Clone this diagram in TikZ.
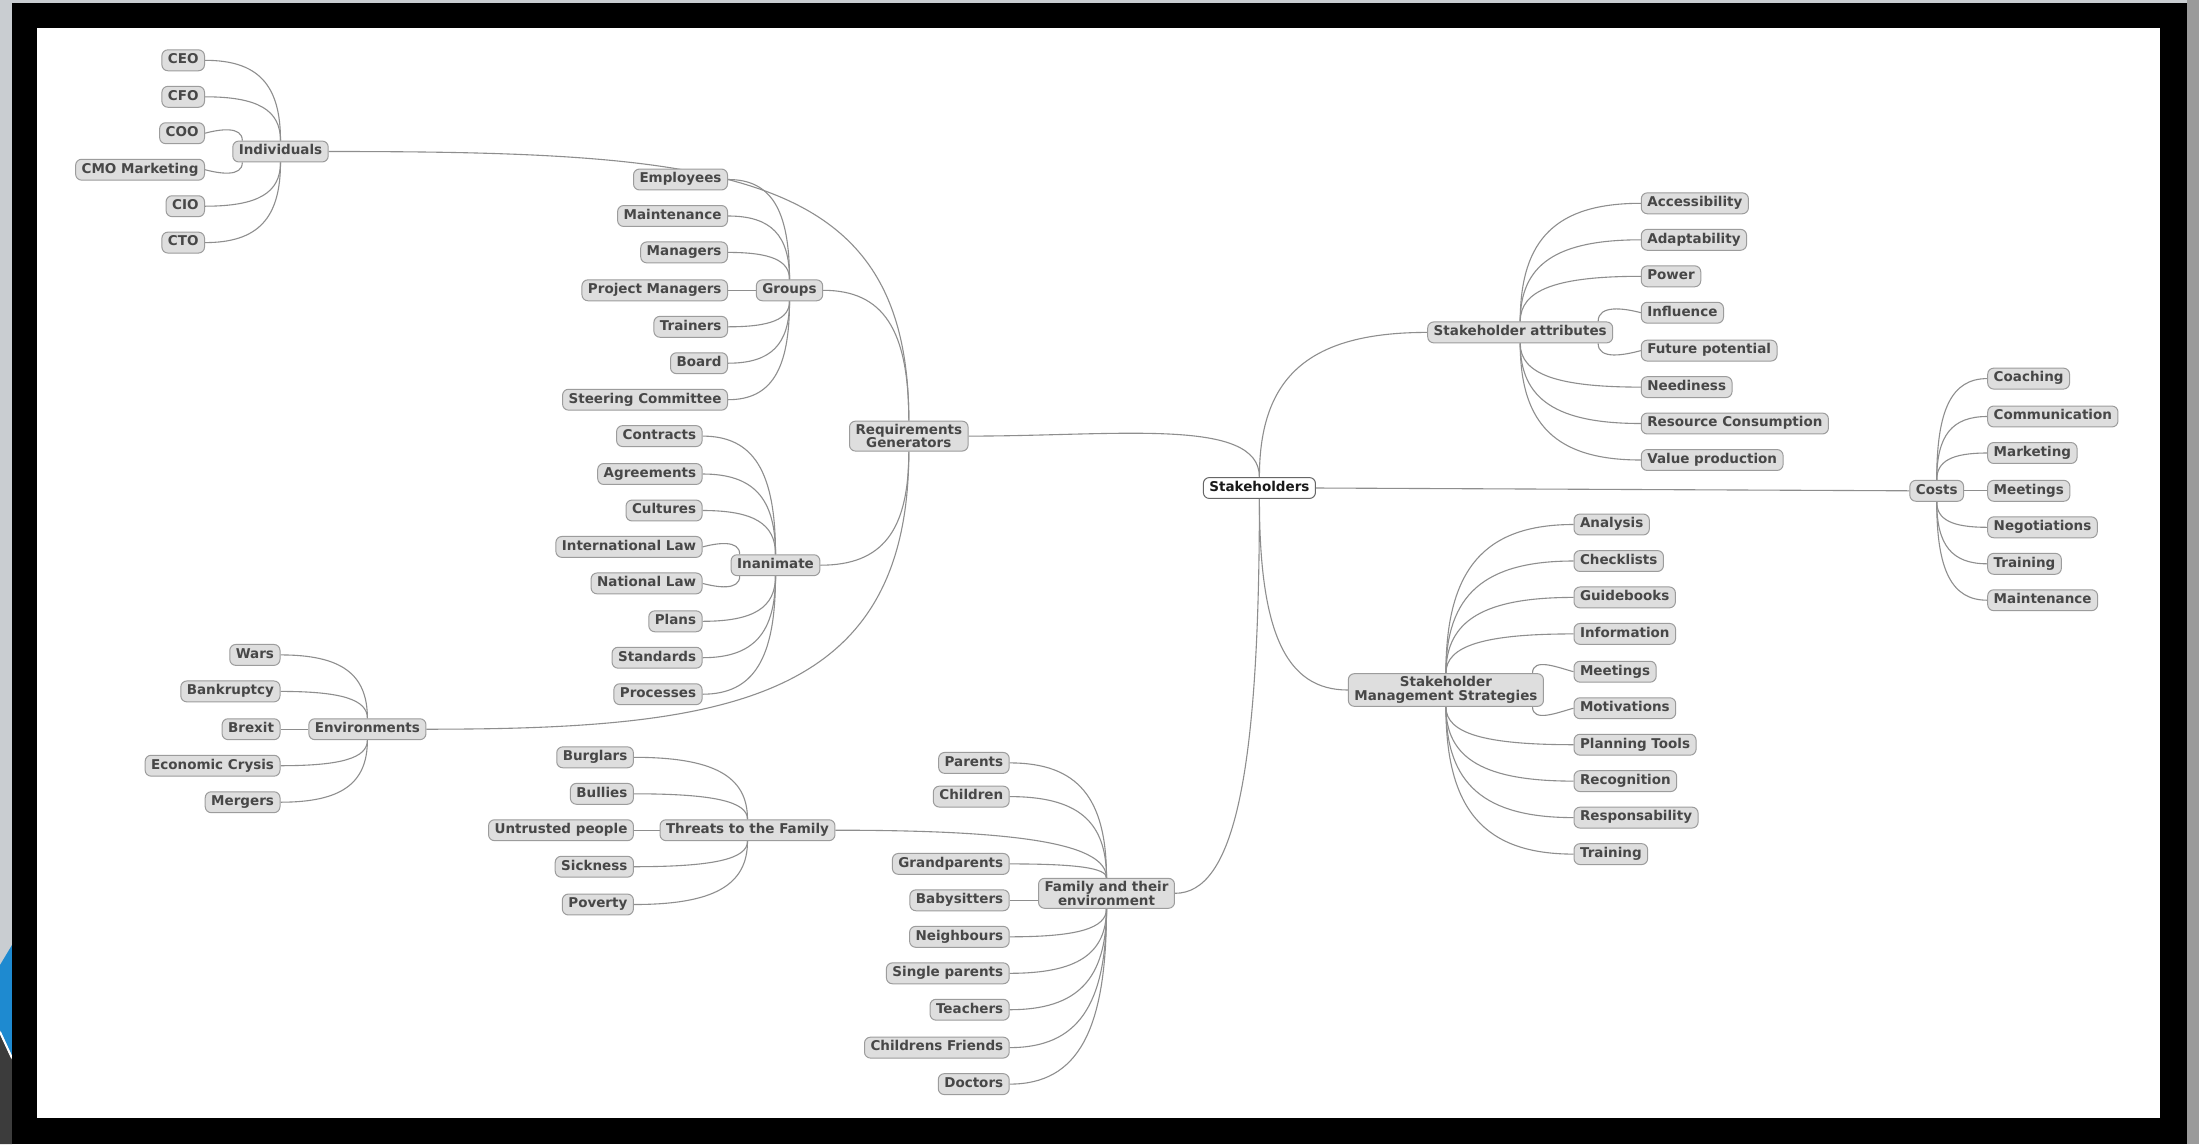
\documentclass[tikz,border=0pt]{standalone}
\usepackage{fontspec}
\setmainfont{DejaVu Sans}
\usetikzlibrary{calc,backgrounds}
\definecolor{ndfill}{HTML}{DEDEDE}
\definecolor{ndborder}{HTML}{9C9C9C}
\definecolor{ndtext}{HTML}{474747}
\definecolor{edgecol}{HTML}{8E8E8E}
\definecolor{stripgray}{HTML}{C9CDD1}
\definecolor{swblue}{HTML}{1E8AD0}
\definecolor{swdark}{HTML}{3C3C3C}
\definecolor{rightgray}{HTML}{9A9A9A}
\newcommand{\ndfont}{\fontsize{13.5}{13.5}\selectfont\bfseries}
\tikzset{
  nd/.style={draw=ndborder, fill=ndfill, rounded corners=6pt, line width=1pt,
    inner xsep=6pt, inner ysep=4pt, font=\ndfont, text=ndtext,
    text height=9.8pt, text depth=3.1pt},
  ndtwo/.style={draw=ndborder, fill=ndfill, rounded corners=6pt, line width=1pt,
    inner xsep=6pt, inner ysep=3pt, font=\ndfont, text=ndtext, align=center},
  rootnd/.style={nd, fill=white, draw=black!60, text=black!90},
  conn/.style={draw=edgecol, line width=1.1pt},
  corner/.style={to path={.. controls ($(\tikztostart)!#1!(\tikztostart-|\tikztotarget)$) and ($(\tikztotarget)!#1!(\tikztotarget|-\tikztostart)$) .. (\tikztotarget)}},
  corner/.default=0.7,
}
\begin{document}
\begin{tikzpicture}[x=1pt,y=1pt]
\useasboundingbox (0,0) rectangle (2199,-1144);
\begin{scope}[on background layer]
  \fill[stripgray] (0,0) rectangle (2199,-1144);
  \fill[swblue] (0,-965) -- (12,-945) -- (12,-1056) -- (0,-1030) -- cycle;
  \fill[swdark] (0,-1034) -- (12,-1060) -- (12,-1144) -- (0,-1144) -- cycle;
  \draw[white, line width=2pt] (0,-1032) -- (12,-1058);
  \fill[rightgray] (2187,0) rectangle (2199,-1144);
  \fill[black] (12,-3) rectangle (2187,-1144);
  \fill[white] (37,-28) rectangle (2160,-1118);
\end{scope}

% ---------- root ----------
\node[rootnd] (sh) at (1259.4,-488) {Stakeholders};

% ---------- Requirements Generators ----------
\node[ndtwo] (rg) at (908.8,-436.1) {Requirements\\Generators};

% Individuals
\node[nd] (ind) at (280.5,-151.5) {Individuals};
\node[nd, anchor=east] (ceo) at (205,-60.3) {CEO};
\node[nd, anchor=east] (cfo) at (205,-96.8) {CFO};
\node[nd, anchor=east] (coo) at (205,-133.2) {COO};
\node[nd, anchor=east] (cmo) at (205,-169.7) {CMO Marketing};
\node[nd, anchor=east] (cio) at (205,-206.2) {CIO};
\node[nd, anchor=east] (cto) at (205,-242.6) {CTO};

% Groups
\node[nd] (grp) at (789.5,-290.3) {Groups};
\node[nd, anchor=east] (emp) at (728,-179.5) {Employees};
\node[nd, anchor=east] (gmaint) at (728,-216.0) {Maintenance};
\node[nd, anchor=east] (mgr) at (728,-252.4) {Managers};
\node[nd, anchor=east] (pm) at (728,-290.3) {Project Managers};
\node[nd, anchor=east] (trn) at (728,-326.8) {Trainers};
\node[nd, anchor=east] (brd) at (728,-363.2) {Board};
\node[nd, anchor=east] (stc) at (728,-399.7) {Steering Committee};

% Inanimate
\node[nd] (inan) at (775.5,-565.2) {Inanimate};
\node[nd, anchor=east] (con) at (702.6,-436.1) {Contracts};
\node[nd, anchor=east] (agr) at (702.6,-474.0) {Agreements};
\node[nd, anchor=east] (cul) at (702.6,-510.5) {Cultures};
\node[nd, anchor=east] (intl) at (702.6,-546.9) {International Law};
\node[nd, anchor=east] (natl) at (702.6,-583.4) {National Law};
\node[nd, anchor=east] (pla) at (702.6,-621.3) {Plans};
\node[nd, anchor=east] (std) at (702.6,-657.7) {Standards};
\node[nd, anchor=east] (pro) at (702.6,-694.2) {Processes};

% Environments
\node[nd] (env) at (367.4,-729.2) {Environments};
\node[nd, anchor=east] (wars) at (280.5,-654.9) {Wars};
\node[nd, anchor=east] (bank) at (280.5,-691.4) {Bankruptcy};
\node[nd, anchor=east] (brex) at (280.5,-729.2) {Brexit};
\node[nd, anchor=east] (eco) at (280.5,-765.7) {Economic Crysis};
\node[nd, anchor=east] (merg) at (280.5,-802.2) {Mergers};

% Threats
\node[nd] (thr) at (747.5,-830.2) {Threats to the Family};
\node[nd, anchor=east] (burg) at (633.9,-757.3) {Burglars};
\node[nd, anchor=east] (bull) at (633.9,-793.8) {Bullies};
\node[nd, anchor=east] (untr) at (633.9,-830.2) {Untrusted people};
\node[nd, anchor=east] (sick) at (633.9,-866.7) {Sickness};
\node[nd, anchor=east] (pov) at (633.9,-904.5) {Poverty};

% Family
\node[ndtwo] (fam) at (1106.5,-893.3) {Family and their\\environment};
\node[nd, anchor=east] (par) at (1009.7,-762.9) {Parents};
\node[nd, anchor=east] (chi) at (1009.7,-796.6) {Children};
\node[nd, anchor=east] (gpar) at (1009.7,-863.9) {Grandparents};
\node[nd, anchor=east] (baby) at (1009.7,-900.3) {Babysitters};
\node[nd, anchor=east] (neigh) at (1009.7,-936.8) {Neighbours};
\node[nd, anchor=east] (sing) at (1009.7,-973.3) {Single parents};
\node[nd, anchor=east] (teach) at (1009.7,-1009.7) {Teachers};
\node[nd, anchor=east] (cfr) at (1009.7,-1047.6) {Childrens Friends};
\node[nd, anchor=east] (doc) at (1009.7,-1084.1) {Doctors};

% Stakeholder attributes
\node[nd] (sa) at (1520.2,-332.4) {Stakeholder attributes};
\node[nd, anchor=west] (acc) at (1640.8,-203.3) {Accessibility};
\node[nd, anchor=west] (ada) at (1640.8,-239.8) {Adaptability};
\node[nd, anchor=west] (pow) at (1640.8,-276.3) {Power};
\node[nd, anchor=west] (infl) at (1640.8,-312.7) {Influence};
\node[nd, anchor=west] (fut) at (1640.8,-350.6) {Future potential};
\node[nd, anchor=west] (need) at (1640.8,-387.1) {Neediness};
\node[nd, anchor=west] (res) at (1640.8,-423.5) {Resource Consumption};
\node[nd, anchor=west] (val) at (1640.8,-460.0) {Value production};

% Costs
\node[nd] (costs) at (1936.7,-490.8) {Costs};
\node[nd, anchor=west] (coach) at (1987.2,-378.6) {Coaching};
\node[nd, anchor=west] (comm) at (1987.2,-416.5) {Communication};
\node[nd, anchor=west] (mark) at (1987.2,-453.0) {Marketing};
\node[nd, anchor=west] (cmeet) at (1987.2,-490.8) {Meetings};
\node[nd, anchor=west] (neg) at (1987.2,-527.3) {Negotiations};
\node[nd, anchor=west] (ctrain) at (1987.2,-563.8) {Training};
\node[nd, anchor=west] (cmaint) at (1987.2,-600.2) {Maintenance};

% Stakeholder Management Strategies
\node[ndtwo] (sms) at (1445.9,-690.0) {Stakeholder\\Management Strategies};
\node[nd, anchor=west] (ana) at (1573.5,-524.5) {Analysis};
\node[nd, anchor=west] (chk) at (1573.5,-561.0) {Checklists};
\node[nd, anchor=west] (gui) at (1573.5,-597.4) {Guidebooks};
\node[nd, anchor=west] (inf) at (1573.5,-633.9) {Information};
\node[nd, anchor=west] (smeet) at (1573.5,-671.7) {Meetings};
\node[nd, anchor=west] (mot) at (1573.5,-708.2) {Motivations};
\node[nd, anchor=west] (plan) at (1573.5,-744.7) {Planning Tools};
\node[nd, anchor=west] (rec) at (1573.5,-781.1) {Recognition};
\node[nd, anchor=west] (resp) at (1573.5,-817.6) {Responsability};
\node[nd, anchor=west] (strain) at (1573.5,-854.1) {Training};

% ---------- connectors ----------
\begin{scope}[on background layer]
  % root branches
  \draw[conn] (rg.east) .. controls +(150,0) and +(0,60) .. (sh.north);
  \draw[conn] (sa.west) to[corner] (sh.north);
  \draw[conn] (sms.west) to[corner] (sh.south);
  \draw[conn] (fam.east) to[corner] (sh.south);
  \draw[conn] (sh.east) -- (costs.west);
  % requirements generators
  \draw[conn] (ind.east) .. controls +(400,0) and +(0,250) .. (rg.north);
  \draw[conn] (env.east) .. controls +(300,0) and +(0,-250) .. (rg.south);
  \draw[conn] (grp.east) to[corner] (rg.north);
  \draw[conn] (inan.east) to[corner] (rg.south);
  % individuals
  \draw[conn] (ceo.east) to[corner] (ind.north);
  \draw[conn] (cfo.east) to[corner] (ind.north);
  \draw[conn] (coo.east) to[out=15,in=90] (ind.164);
  \draw[conn] (cmo.east) to[out=-15,in=-90] (ind.196);
  \draw[conn] (cio.east) to[corner] (ind.south);
  \draw[conn] (cto.east) to[corner] (ind.south);
  % groups
  \draw[conn] (emp.east) to[corner] (grp.north);
  \draw[conn] (gmaint.east) to[corner] (grp.north);
  \draw[conn] (mgr.east) to[corner] (grp.north);
  \draw[conn] (pm.east) -- (grp.west);
  \draw[conn] (trn.east) to[corner] (grp.south);
  \draw[conn] (brd.east) to[corner] (grp.south);
  \draw[conn] (stc.east) to[corner] (grp.south);
  % inanimate
  \draw[conn] (con.east) to[corner] (inan.north);
  \draw[conn] (agr.east) to[corner] (inan.north);
  \draw[conn] (cul.east) to[corner] (inan.north);
  \draw[conn] (intl.east) to[out=15,in=90] (inan.163);
  \draw[conn] (natl.east) to[out=-15,in=-90] (inan.197);
  \draw[conn] (pla.east) to[corner] (inan.south);
  \draw[conn] (std.east) to[corner] (inan.south);
  \draw[conn] (pro.east) to[corner] (inan.south);
  % environments
  \draw[conn] (wars.east) to[corner] (env.north);
  \draw[conn] (bank.east) to[corner] (env.north);
  \draw[conn] (brex.east) -- (env.west);
  \draw[conn] (eco.east) to[corner] (env.south);
  \draw[conn] (merg.east) to[corner] (env.south);
  % threats
  \draw[conn] (thr.east) to[corner] (fam.north);
  \draw[conn] (burg.east) to[corner] (thr.north);
  \draw[conn] (bull.east) to[corner] (thr.north);
  \draw[conn] (untr.east) -- (thr.west);
  \draw[conn] (sick.east) to[corner] (thr.south);
  \draw[conn] (pov.east) to[corner] (thr.south);
  % family
  \draw[conn] (par.east) to[corner] (fam.north);
  \draw[conn] (chi.east) to[corner] (fam.north);
  \draw[conn] (gpar.east) to[corner] (fam.north);
  \draw[conn] (baby.east) -- (baby.east -| fam.west);
  \draw[conn] (neigh.east) to[corner] (fam.south);
  \draw[conn] (sing.east) to[corner] (fam.south);
  \draw[conn] (teach.east) to[corner] (fam.south);
  \draw[conn] (cfr.east) to[corner] (fam.south);
  \draw[conn] (doc.east) to[corner] (fam.south);
  % stakeholder attributes
  \draw[conn] (acc.west) to[corner] (sa.north);
  \draw[conn] (ada.west) to[corner] (sa.north);
  \draw[conn] (pow.west) to[corner] (sa.north);
  \draw[conn] (infl.west) to[out=165,in=90] (sa.8);
  \draw[conn] (fut.west) to[out=195,in=-90] (sa.-8);
  \draw[conn] (need.west) to[corner] (sa.south);
  \draw[conn] (res.west) to[corner] (sa.south);
  \draw[conn] (val.west) to[corner] (sa.south);
  % costs
  \draw[conn] (coach.west) to[corner] (costs.north);
  \draw[conn] (comm.west) to[corner] (costs.north);
  \draw[conn] (mark.west) to[corner] (costs.north);
  \draw[conn] (cmeet.west) -- (costs.east);
  \draw[conn] (neg.west) to[corner] (costs.south);
  \draw[conn] (ctrain.west) to[corner] (costs.south);
  \draw[conn] (cmaint.west) to[corner] (costs.south);
  % management strategies
  \draw[conn] (ana.west) to[corner] (sms.north);
  \draw[conn] (chk.west) to[corner] (sms.north);
  \draw[conn] (gui.west) to[corner] (sms.north);
  \draw[conn] (inf.west) to[corner] (sms.north);
  \draw[conn] (smeet.west) to[out=165,in=90] (sms.11);
  \draw[conn] (mot.west) to[out=195,in=-90] (sms.-11);
  \draw[conn] (plan.west) to[corner] (sms.south);
  \draw[conn] (rec.west) to[corner] (sms.south);
  \draw[conn] (resp.west) to[corner] (sms.south);
  \draw[conn] (strain.west) to[corner] (sms.south);
\end{scope}
\end{tikzpicture}
\end{document}
